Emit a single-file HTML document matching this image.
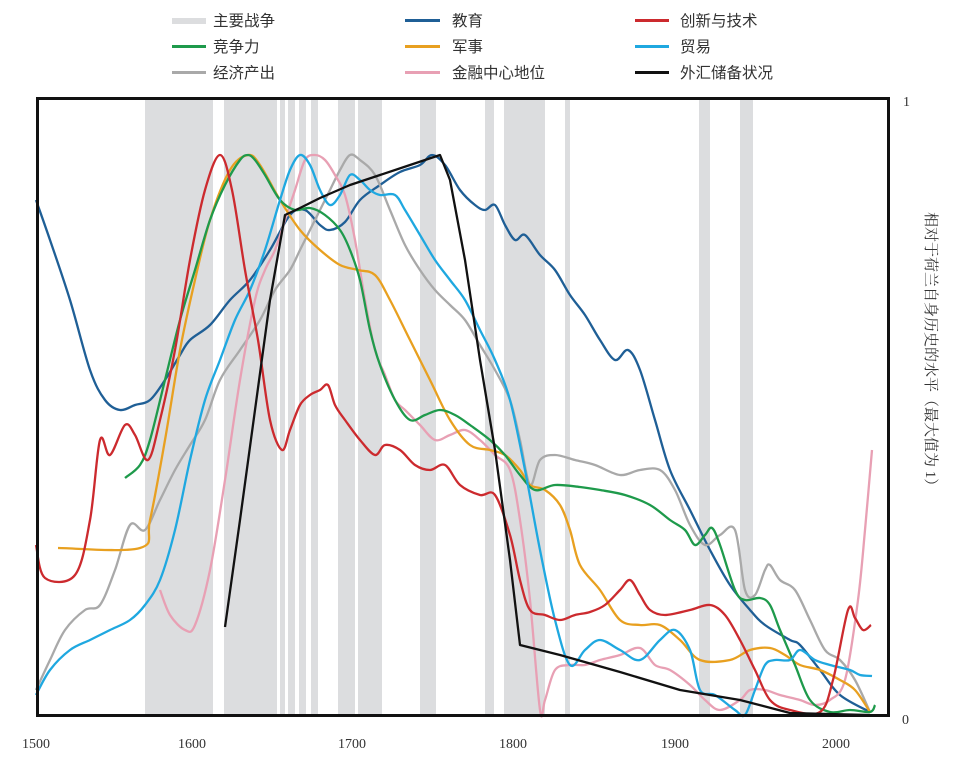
<!DOCTYPE html>
<html><head><meta charset="utf-8"><style>
body{margin:0;background:#fff;}
svg{display:block;font-family:"Liberation Serif","Noto Serif CJK SC",serif;}
</style></head><body>
<svg id="s" width="978" height="766" viewBox="0 0 978 766" xmlns="http://www.w3.org/2000/svg">
<g fill="#dcdddf">
<rect x="145" y="99" width="68" height="616"/><rect x="224" y="99" width="53" height="616"/>
<rect x="280" y="99" width="5" height="616"/><rect x="288" y="99" width="7" height="616"/>
<rect x="299" y="99" width="7" height="616"/><rect x="311" y="99" width="7" height="616"/>
<rect x="338" y="99" width="17" height="616"/><rect x="358" y="99" width="24" height="616"/>
<rect x="420" y="99" width="16" height="616"/><rect x="485" y="99" width="9" height="616"/>
<rect x="504" y="99" width="41" height="616"/><rect x="565" y="99" width="5" height="616"/>
<rect x="699" y="99" width="11" height="616"/><rect x="740" y="99" width="13" height="616"/>
</g>
<g fill="none" stroke-width="2.3" stroke-linejoin="round" class="sm">
<polyline stroke="#1f5f96" points="36,200 50,240 70,300 90,370 105,400 120,410 135,405 150,400 165,380 180,355 190,340 210,325 230,300 250,280 270,250 290,215 305,210 320,225 330,230 345,222 360,200 380,185 400,172 420,165 432,155 445,165 460,190 475,205 485,210 495,205 505,225 515,240 525,235 540,255 555,270 570,295 585,315 600,340 615,360 628,350 640,370 655,420 670,470 690,510 710,550 730,585 750,610 765,625 790,640 800,645 820,670 840,695 870,712"/>
<polyline stroke="#a9a9a9" points="36,690 50,660 65,630 85,610 100,605 115,570 130,525 145,530 160,500 175,470 190,445 205,420 220,380 240,350 260,320 275,290 290,270 300,250 310,230 320,210 330,190 340,170 350,155 360,160 375,175 390,210 405,245 420,270 435,290 450,305 465,320 480,345 495,370 510,400 520,440 530,485 540,460 555,455 575,460 595,465 620,475 640,470 660,470 675,490 690,525 705,545 720,535 735,530 745,590 755,595 765,570 770,565 780,580 795,590 810,620 825,650 840,660 855,680 870,712"/>
<polyline stroke="#e8a0b4" points="160,590 170,615 185,630 195,625 210,570 225,480 240,380 255,300 265,270 275,250 285,220 295,190 305,160 315,155 325,160 335,175 345,195 355,240 365,300 375,350 385,375 395,400 405,410 420,425 435,440 450,435 465,430 480,440 495,455 510,470 520,520 530,600 540,710 545,700 555,670 570,665 585,665 600,660 620,655 640,648 655,665 670,670 690,685 705,700 720,710 740,700 750,690 765,690 780,695 800,700 815,705 830,700 845,680 858,600 865,530 872,450"/>
<polyline stroke="#e8a020" points="58,548 140,548 150,520 165,440 180,350 195,280 210,220 230,170 248,155 260,165 280,200 300,230 320,250 340,265 358,270 375,275 390,300 410,340 430,380 450,420 470,445 490,450 505,455 520,470 530,485 545,490 560,505 570,530 580,565 600,590 620,620 640,625 660,625 680,640 700,660 730,660 750,650 770,648 785,655 800,665 820,670 840,680 855,690 870,712"/>
<polyline stroke="#1e9a4b" points="125,478 140,465 150,440 165,380 180,320 195,270 210,220 225,185 240,160 248,155 255,160 265,175 280,200 295,210 310,208 325,215 340,230 350,250 360,280 370,330 380,365 395,400 410,420 425,415 440,410 455,415 470,425 490,440 505,455 520,475 535,490 555,485 580,487 600,490 625,495 650,505 670,520 685,530 695,545 705,535 712,528 720,545 735,590 745,600 760,598 770,605 780,630 795,665 810,700 830,712 850,710 870,712 875,705"/>
<polyline stroke="#1fa8e0" points="36,695 50,670 70,650 90,640 110,630 130,620 145,605 160,580 175,530 190,460 205,400 220,360 235,320 250,290 265,250 280,200 290,170 300,155 310,165 320,190 330,205 340,195 350,175 360,180 370,190 380,195 395,195 405,210 420,235 435,260 450,280 465,300 480,330 495,360 510,400 525,470 540,550 555,620 570,665 585,650 600,640 620,650 640,660 660,640 675,630 690,650 700,690 715,695 735,710 745,715 755,690 765,665 775,660 790,660 800,650 815,660 830,665 850,670 860,675 872,676"/>
<polyline stroke="#cc2a2e" points="36,545 45,578 75,575 90,520 100,440 110,455 125,425 135,435 148,460 160,420 175,350 190,260 205,190 220,155 232,190 245,270 258,340 270,420 282,450 290,430 300,405 310,395 320,390 328,385 335,405 345,420 360,440 375,455 385,445 400,450 415,465 430,470 445,465 460,485 480,495 495,495 510,535 520,580 530,610 545,615 560,620 575,615 590,612 605,605 620,590 630,580 640,595 650,610 665,615 690,610 710,605 725,615 740,640 755,670 770,700 790,710 820,712 833,680 848,610 855,618 863,630 871,625"/>
</g>
<polyline fill="none" stroke-width="2.3" stroke="#111" stroke-linejoin="round" points="225,627 240,520 255,410 270,300 285,215 300,208 320,198 350,185 380,175 410,165 440,155 450,180 465,260 480,360 495,450 510,560 520,645 560,655 620,672 680,690 740,700 790,713 870,715"/>
<rect x="37.5" y="98.5" width="851" height="617" fill="none" stroke="#111" stroke-width="3"/>
<g font-size="14" fill="#333">
<text x="22" y="748">1500</text><text x="178" y="748">1600</text><text x="338" y="748">1700</text>
<text x="499" y="748">1800</text><text x="661" y="748">1900</text><text x="822" y="748">2000</text>
<text x="903" y="106">1</text><text x="902" y="724">0</text>
</g>
<text x="0" y="0" font-size="15" fill="#333" transform="translate(926,212) rotate(90)">相对于荷兰自身历史的水平（最大值为 1）</text>
<g font-size="15.5" fill="#333" font-family="Liberation Sans,Noto Sans CJK SC,sans-serif">
<rect x="172" y="18" width="34" height="6" fill="#dcdddf"/><text x="213" y="26">主要战争</text>
<rect x="405" y="19" width="35" height="3" fill="#1f5f96"/><text x="452" y="26">教育</text>
<rect x="635" y="19" width="34" height="3" fill="#cc2a2e"/><text x="680" y="26">创新与技术</text>
<rect x="172" y="45" width="34" height="3" fill="#1e9a4b"/><text x="213" y="52">竞争力</text>
<rect x="405" y="45" width="35" height="3" fill="#e8a020"/><text x="452" y="52">军事</text>
<rect x="635" y="45" width="34" height="3" fill="#1fa8e0"/><text x="680" y="52">贸易</text>
<rect x="172" y="71" width="34" height="3" fill="#a9a9a9"/><text x="213" y="78">经济产出</text>
<rect x="405" y="71" width="35" height="3" fill="#e8a0b4"/><text x="452" y="78">金融中心地位</text>
<rect x="635" y="71" width="34" height="3" fill="#111"/><text x="680" y="78">外汇储备状况</text>
</g>
</svg>
<script>
document.querySelectorAll('.sm polyline').forEach(function(pl){
  var p=pl.getAttribute('points').trim().split(/\s+/).map(function(s){return s.split(',').map(Number);});
  var d='M'+p[0][0]+','+p[0][1];
  for(var i=0;i<p.length-1;i++){
    var p0=p[i-1]||p[i],p1=p[i],p2=p[i+1],p3=p[i+2]||p2;
    var c1x=p1[0]+(p2[0]-p0[0])/6,c1y=p1[1]+(p2[1]-p0[1])/6;
    var c2x=p2[0]-(p3[0]-p1[0])/6,c2y=p2[1]-(p3[1]-p1[1])/6;
    d+=' C'+c1x.toFixed(1)+','+c1y.toFixed(1)+' '+c2x.toFixed(1)+','+c2y.toFixed(1)+' '+p2[0]+','+p2[1];
  }
  var path=document.createElementNS('http://www.w3.org/2000/svg','path');
  path.setAttribute('d',d);path.setAttribute('stroke',pl.getAttribute('stroke'));
  pl.parentNode.replaceChild(path,pl);
});
</script>
</body></html>
